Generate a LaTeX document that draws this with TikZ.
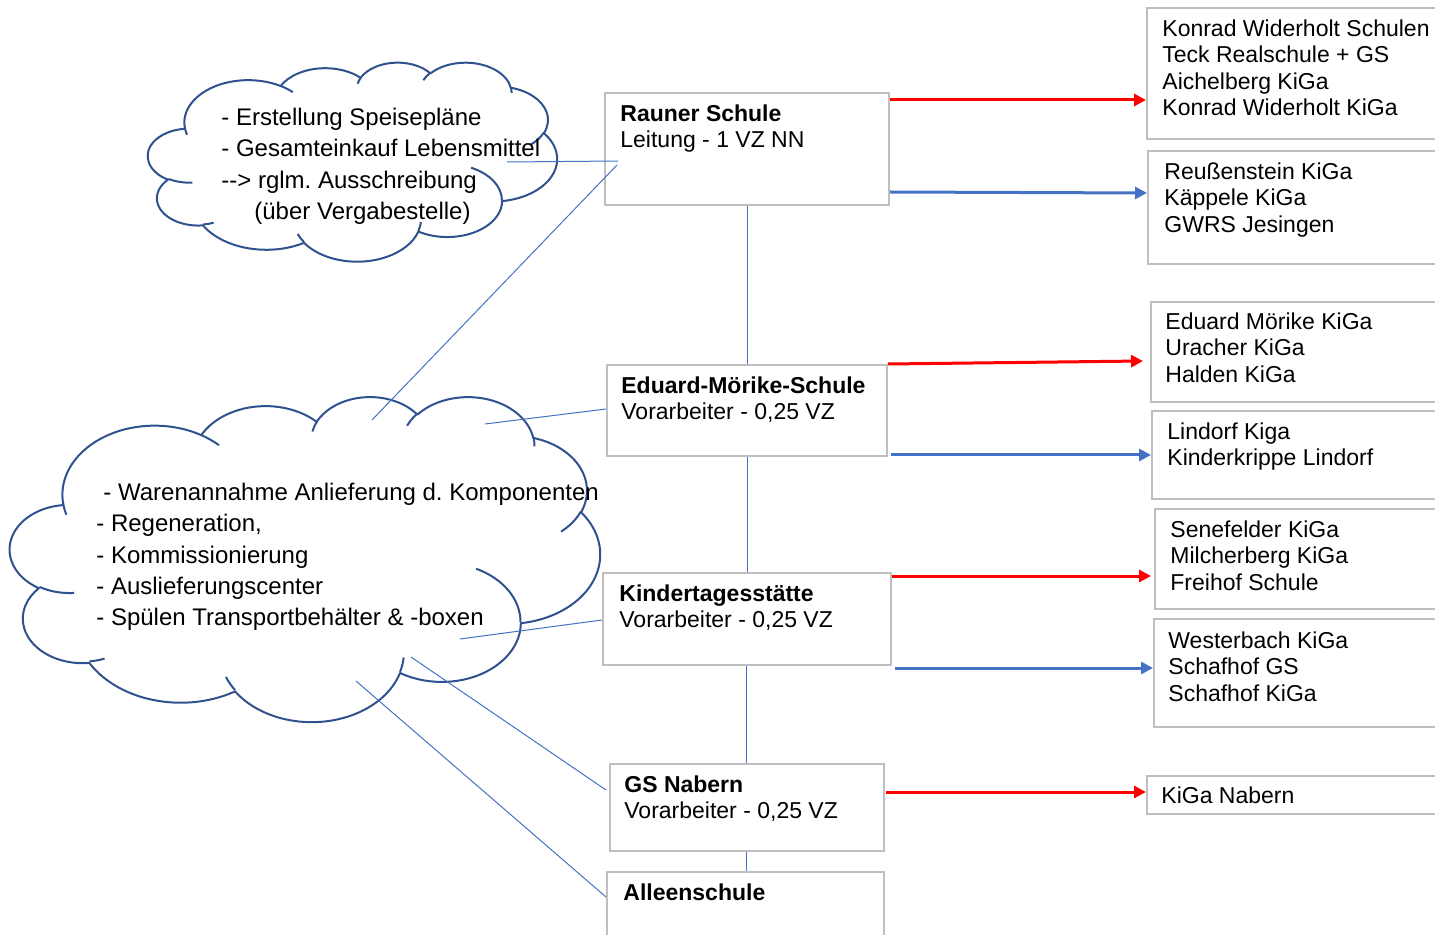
\documentclass[tikz,border=0pt]{standalone}
\usepackage{fontspec}
\setmainfont{Liberation Sans}[Ligatures=TeXOff]
\usepackage{xcolor}
\usetikzlibrary{arrows.meta,positioning,calc}
\definecolor{boxgray}{HTML}{BFBFBF}
\definecolor{linkblue}{HTML}{4472C4}
\definecolor{cloudblue}{HTML}{2F528F}
\definecolor{arrred}{HTML}{FF0000}
\frenchspacing

% elliptic arc given by visual start angle and sweep (as in office shapes)
\newcommand\ooarc[4]{%
  \pgfextra{%
    \pgfmathsetmacro\wolkeS{atan2((#1)*sin(#3),(#2)*cos(#3))}%
    \pgfmathsetmacro\wolkeE{atan2((#1)*sin((#3)+(#4)),(#2)*cos((#3)+(#4)))}%
    \pgfmathsetmacro\wolkeE{\wolkeE+360*round(((#4)-(\wolkeE-\wolkeS))/360)}%
    \global\let\wolkeS\wolkeS\global\let\wolkeE\wolkeE}
  arc[x radius=#1, y radius=#2, start angle=\wolkeS, end angle=\wolkeE]}

% cloud in a frame: left, top, xscale, yscale (frame is 43.2 units wide)
\newcommand\wolke[4]{%
  \begin{scope}[shift={(#1,#2)}, xscale=#3, yscale=#4]
    \draw[wolkenrand] (3.900,14.370)
      \ooarc{6.753}{9.190}{-190.4875}{123.7805}
      \ooarc{5.333}{7.267}{-144.1024}{89.9452}
      \ooarc{4.365}{5.945}{-145.8079}{99.7230}
      \ooarc{4.857}{6.595}{-130.9861}{117.2417}
      \ooarc{5.333}{7.273}{-78.7089}{109.0269}
      \ooarc{6.775}{9.220}{-46.2673}{130.2690}
      \ooarc{5.785}{7.867}{0.6250}{114.0333}
      \ooarc{6.752}{9.215}{22.4516}{115.1726}
      \ooarc{7.720}{10.543}{66.2426}{75.7110}
      \ooarc{4.360}{5.918}{-274.9421}{146.7356}
      \ooarc{4.345}{5.945}{-246.8285}{152.5189} -- cycle;
    \draw[wolkenrand]
      (4.693,26.177) \ooarc{4.345}{5.945}{86.7420}{26.4295}
      (6.928,34.899) \ooarc{4.360}{5.918}{73.6105}{11.4475}
      (16.478,39.090) \ooarc{6.752}{9.215}{137.6242}{14.0811}
      (28.827,34.751) \ooarc{6.752}{9.215}{6.4533}{15.9984}
      (34.129,22.954) \ooarc{5.785}{7.867}{-70.2924}{70.9174}
      (41.798,15.354) \ooarc{5.333}{7.273}{30.3180}{27.7515}
      (38.324,5.426) \ooarc{4.857}{6.595}{-13.7443}{14.8589}
      (29.078,3.952) \ooarc{4.857}{6.595}{-149.1815}{18.1954}
      (22.141,4.720) \ooarc{4.365}{5.945}{-163.4943}{17.6864}
      (14.000,5.192) \ooarc{6.753}{9.190}{-66.7070}{12.3194}
      (4.127,15.789) \ooarc{6.753}{9.190}{157.6544}{11.8582};
  \end{scope}}

\tikzset{
  box/.style={draw=boxgray, line width=1pt, anchor=north west, inner sep=0pt},
  boxtext/.style={anchor=north west, inner sep=0pt, align=left, font=\fontsize{11.5}{13.25}\selectfont},
  cloudtext/.style={anchor=north west, inner sep=0pt, align=left, font=\fontsize{12}{15.6}\selectfont},
  wolkenrand/.style={draw=cloudblue, line width=1pt, line join=round},
  link/.style={draw=linkblue, line width=0.5pt},
  redarr/.style={draw=arrred, line width=1.5pt, -{Triangle[length=6pt,width=6pt]}},
  bluearr/.style={draw=linkblue, line width=1.5pt, -{Triangle[length=6pt,width=6pt]}}
}

\begin{document}
\begin{tikzpicture}[x=0.5pt,y=-0.5pt]
  \useasboundingbox (0,0) rectangle (1435,935);
  \clip (0,0) rectangle (1435,935);

  % clouds
  \wolke{148}{62}{9.468}{4.606}
  \wolke{10}{396}{13.657}{7.523}
  \node[cloudtext] (wolkeoben-t) at (221,108) {- Erstellung Speisepläne\\- Gesamteinkauf Lebensmittel\\--> rglm. Ausschreibung\\\hspace*{16.5pt}(über Vergabestelle)};
  \node[cloudtext] (wolkeunten-t) at (96,483) {\hspace*{3.5pt}- Warenannahme Anlieferung d. Komponenten\\- Regeneration,\\- Kommissionierung\\- Auslieferungscenter\\- Spülen Transportbehälter \& -boxen};

  % kitchens
  \node[box, minimum width=142pt, minimum height=56pt] (rauner) at (604,92) {};
  \node[box, minimum width=140pt, minimum height=45.5pt] (eduard) at (606,364) {};
  \node[box, minimum width=144pt, minimum height=46pt] (kita) at (602,572) {};
  \node[box, minimum width=137pt, minimum height=43.5pt] (nabern) at (609,763) {};
  \node[box, minimum width=138.5pt, minimum height=40pt] (allee) at (606,871) {};
  \node[boxtext] (rauner-t) at ($(rauner.north west)+(16,12)$) {\textbf{Rauner Schule}\\Leitung - 1 VZ NN};
  \node[boxtext] (eduard-t) at ($(eduard.north west)+(15,12)$) {\textbf{Eduard-Mörike-Schule}\\Vorarbeiter - 0,25 VZ};
  \node[boxtext] (kita-t) at ($(kita.north west)+(17,12)$) {\textbf{Kindertagesstätte}\\Vorarbeiter - 0,25 VZ};
  \node[boxtext] (nabern-t) at ($(nabern.north west)+(15,12)$) {\textbf{GS Nabern}\\Vorarbeiter - 0,25 VZ};
  \node[boxtext] (allee-t) at ($(allee.north west)+(17,12)$) {\textbf{Alleenschule}};

  % receivers
  \node[box, minimum width=150pt, minimum height=65.5pt] (kA) at (1146,7) {};
  \node[box, minimum width=150pt, minimum height=56.5pt] (kB) at (1147,150) {};
  \node[box, minimum width=150pt, minimum height=50pt] (kC) at (1150,301) {};
  \node[box, minimum width=150pt, minimum height=44pt] (kD) at (1151,410) {};
  \node[box, minimum width=150pt, minimum height=50pt] (kE) at (1154,508) {};
  \node[box, minimum width=150pt, minimum height=54pt] (kF) at (1153,618) {};
  \node[box, minimum width=150pt, minimum height=19pt] (kG) at (1146,775) {};
  \node[boxtext] (kA-t) at ($(kA.north west)+(16,12)$) {Konrad Widerholt Schulen\\Teck Realschule + GS\\Aichelberg KiGa\\Konrad Widerholt KiGa};
  \node[boxtext] (kB-t) at ($(kB.north west)+(17,12)$) {Reußenstein KiGa\\Käppele KiGa\\GWRS Jesingen};
  \node[boxtext] (kC-t) at ($(kC.north west)+(15,11)$) {Eduard Mörike KiGa\\Uracher KiGa\\Halden KiGa};
  \node[boxtext] (kD-t) at ($(kD.north west)+(16,12)$) {Lindorf Kiga\\Kinderkrippe Lindorf};
  \node[boxtext] (kE-t) at ($(kE.north west)+(16,12)$) {Senefelder KiGa\\Milcherberg KiGa\\Freihof Schule};
  \node[boxtext] (kF-t) at ($(kF.north west)+(15,13)$) {Westerbach KiGa\\Schafhof GS\\Schafhof KiGa};
  \node[boxtext] (kG-t) at ($(kG.north west)+(15,11)$) {KiGa Nabern};

  % line ends in the clouds
  \coordinate (o1) at (507,162);
  \coordinate (o2) at (618,161);
  \coordinate (o3) at (617,165);
  \coordinate (u0) at (372,420);
  \coordinate (u1) at (485,424);
  \coordinate (u2) at (460,639);
  \coordinate (u3) at (411,657);
  \coordinate (u4) at (356,681);

  \draw[link] (o1) -- (o2);
  \draw[link] (o3) -- (u0);
  \draw[link] (u1) -- ($(eduard.north west)+(0,45)$);
  \draw[link] (u2) -- ($(kita.north west)+(0,48)$);
  \draw[link] (u3) -- ($(nabern.north west)+(-3,27)$);
  \draw[link] (u4) -- ($(allee.north west)+(0,26)$);

  \draw[link] (rauner.south) -- (rauner.south |- eduard.north);
  \draw[link] (eduard.south) -- (eduard.south |- kita.north);
  \draw[link] ($(kita.south)+(-1,0)$) -- ($(kita.south |- nabern.north)+(-1,0)$);
  \draw[link] ($(nabern.south)+(-1,0)$) -- ($(nabern.south |- allee.north)+(-1,0)$);

  % deliveries
  \draw[redarr] ($(rauner.north east)+(0,8)$) -- ($(kA.west |- rauner.north east)+(0,8)$);
  \draw[bluearr] ($(rauner.south east)+(0,-14)$) -- ($(kB.west |- rauner.south east)+(0,-13)$);
  \draw[redarr] (eduard.north east) -- ($(kC.north west)+(-7,60)$);
  \draw[bluearr] ($(eduard.south east)+(3,-2)$) -- ($(kD.west |- eduard.south east)+(0,-2)$);
  \draw[redarr] ($(kita.north east)+(0,4)$) -- ($(kE.west |- kita.north east)+(-3,4)$);
  \draw[bluearr] ($(kita.south east)+(3,2)$) -- ($(kF.west |- kita.south east)+(0,2)$);
  \draw[redarr] ($(nabern.north east)+(1,29)$) -- ($(kG.west |- nabern.north east)+(0,29)$);
\end{tikzpicture}
\end{document}
